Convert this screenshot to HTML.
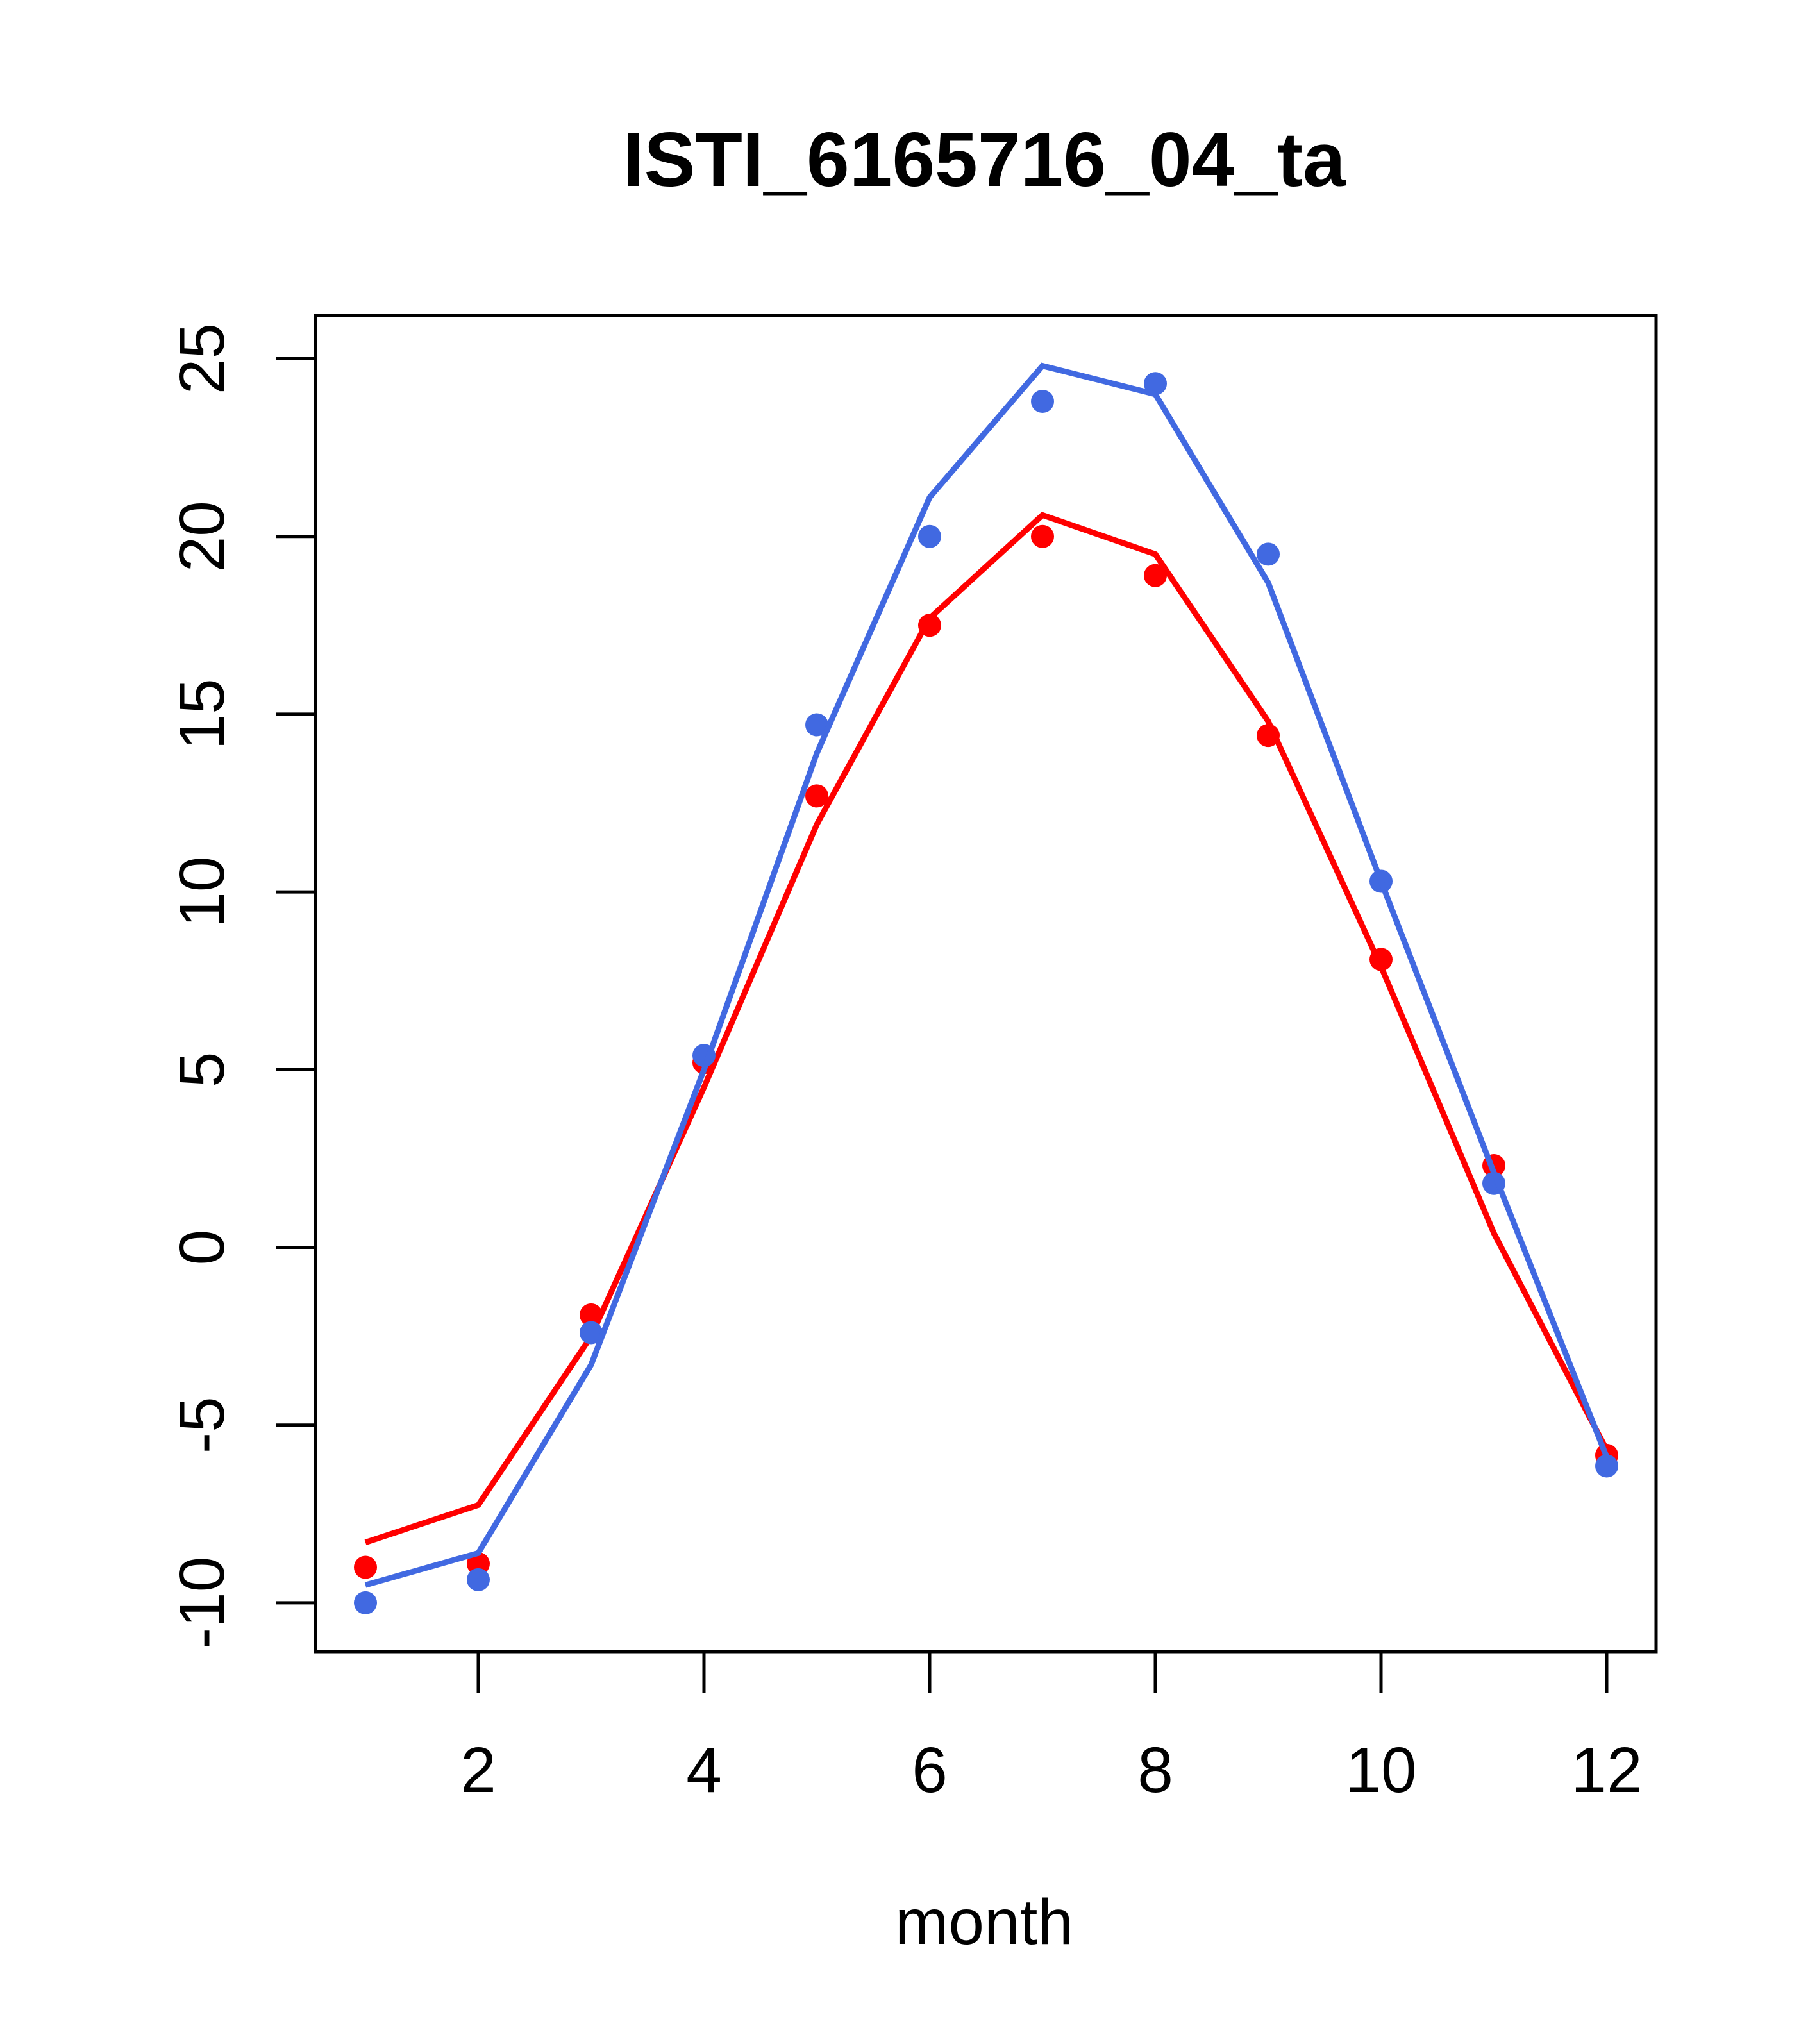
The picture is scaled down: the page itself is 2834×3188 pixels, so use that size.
<!DOCTYPE html>
<html><head><style>html,body{margin:0;padding:0;background:#fff}svg{display:block}</style></head>
<body>
<svg id="s" xmlns="http://www.w3.org/2000/svg" width="2834" height="3188" viewBox="0 0 2834 3188">
<rect width="2834" height="3188" fill="#fff"/>
<text x="1535" y="290" text-anchor="middle" font-family="Liberation Sans, sans-serif" font-weight="bold" font-size="120">ISTI_6165716_04_ta</text>
<rect x="492" y="492" width="2091" height="2084" fill="none" stroke="#000" stroke-width="5"/>
<g id="g"></g>
<text x="1535" y="3032" text-anchor="middle" font-family="Liberation Sans, sans-serif" font-size="100">month</text>
</svg>
<script>
var X=function(m){return 746+(m-2)*176}, Y=function(v){return 559.5+(25-v)*55.44};
var rl=[-8.3,-7.25,-2.5,4.5,11.9,17.7,20.6,19.5,14.8,7.9,0.4,-5.7];
var rp=[-9,-8.9,-1.9,5.2,12.7,17.5,20,18.9,14.4,8.1,2.3,-5.85];
var bl=[-9.5,-8.6,-3.3,5,13.9,21.1,24.8,24,18.7,10.3,2.1,-5.9];
var bp=[-10,-9.35,-2.4,5.4,14.7,20,23.8,24.3,19.5,10.3,1.8,-6.15];
var h='';
function line(a,c){var p=a.map(function(v,i){return X(i+1).toFixed(1)+','+Y(v).toFixed(1)}).join(' ');
h+='<polyline points="'+p+'" fill="none" stroke="'+c+'" stroke-width="9"/>';}
function pts(a,c){a.forEach(function(v,i){h+='<circle cx="'+X(i+1)+'" cy="'+Y(v)+'" r="18" fill="'+c+'"/>';});}
pts(rp,'#ff0000');line(rl,'#ff0000');pts(bp,'#4169e1');line(bl,'#4169e1');
for(var m=2;m<=12;m+=2){var x=X(m);h+='<line x1="'+x+'" y1="2576" x2="'+x+'" y2="2640" stroke="#000" stroke-width="5"/>';
h+='<text x="'+x+'" y="2795" text-anchor="middle" font-family="Liberation Sans, sans-serif" font-size="100">'+m+'</text>';}
for(var v=-10;v<=25;v+=5){var y=Y(v);h+='<line x1="430" y1="'+y+'" x2="492" y2="'+y+'" stroke="#000" stroke-width="5"/>';
h+='<text transform="translate(349,'+y+') rotate(-90)" text-anchor="middle" font-family="Liberation Sans, sans-serif" font-size="100">'+v+'</text>';}
document.getElementById('g').innerHTML=h;
</script>
</body></html>
